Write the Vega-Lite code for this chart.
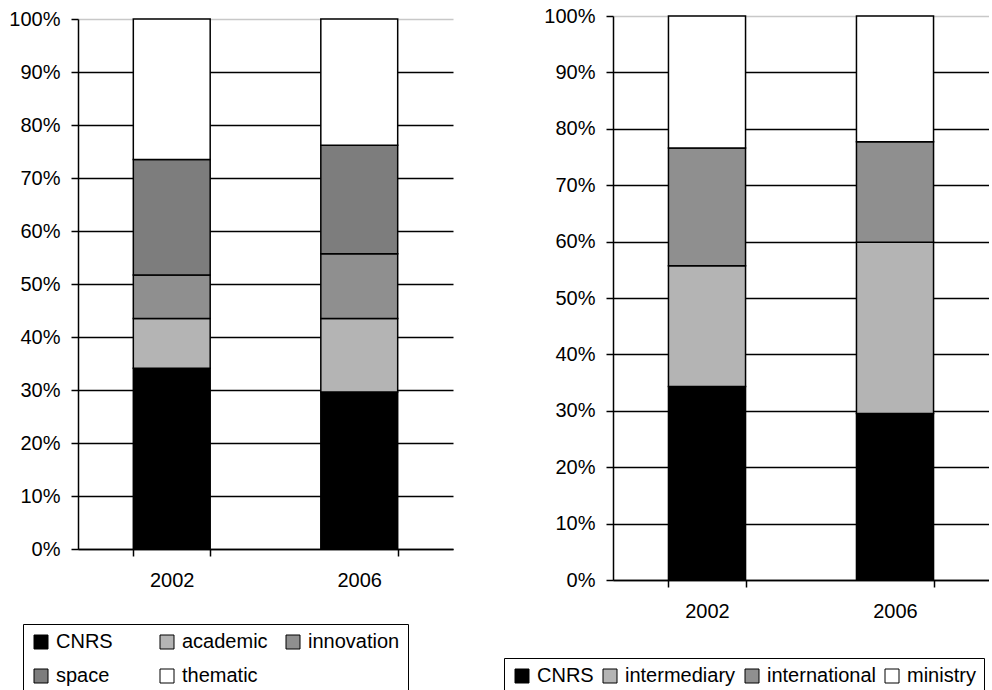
{
  "$schema": "https://vega.github.io/schema/vega-lite/v6.json",
  "background": "white",
  "padding": {"left": 8, "top": 6, "right": 0, "bottom": 0},
  "spacing": 50,
  "config": {
    "font": "Liberation Sans",
    "view": {"stroke": null},
    "axis": {
      "labelFont": "Liberation Sans",
      "labelFontSize": 20,
      "labelColor": "black",
      "domainColor": "black",
      "domainWidth": 1.5,
      "tickColor": "black",
      "tickWidth": 1.5,
      "tickSize": 7,
      "title": null
    },
    "legend": {
      "orient": "none",
      "direction": "horizontal",
      "title": null,
      "symbolType": "square",
      "symbolSize": 196,
      "symbolStrokeColor": "black",
      "symbolStrokeWidth": 1,
      "symbolOpacity": 1,
      "labelFont": "Liberation Sans",
      "labelFontSize": 20,
      "labelColor": "black",
      "labelOffset": 5,
      "strokeColor": "black",
      "fillColor": "white",
      "padding": 8,
      "labelLimit": 300
    }
  },
  "hconcat": [
    {
      "width": 375,
      "height": 533,
      "data": {"values": [
        {"year": "2002", "source": "CNRS", "share": 0.341},
        {"year": "2002", "source": "academic", "share": 0.094},
        {"year": "2002", "source": "innovation", "share": 0.082},
        {"year": "2002", "source": "space", "share": 0.218},
        {"year": "2002", "source": "thematic", "share": 0.265},
        {"year": "2006", "source": "CNRS", "share": 0.296},
        {"year": "2006", "source": "academic", "share": 0.139},
        {"year": "2006", "source": "innovation", "share": 0.122},
        {"year": "2006", "source": "space", "share": 0.205},
        {"year": "2006", "source": "thematic", "share": 0.238}
      ]},
      "mark": {"type": "bar", "stroke": "black", "strokeWidth": 1.5},
      "encoding": {
        "x": {
          "field": "year", "type": "nominal",
          "scale": {"paddingInner": 0.59, "paddingOuter": 0.295},
          "axis": {"labelAngle": 0, "tickBand": "extent", "labelPadding": 14}
        },
        "y": {
          "field": "share", "type": "quantitative", "stack": "zero",
          "scale": {"domain": [0, 1], "range": [533, 3], "nice": false},
          "axis": {
            "values": [0, 0.1, 0.2, 0.3, 0.4, 0.5, 0.6, 0.7, 0.8, 0.9, 1],
            "format": ".0%",
            "grid": true,
            "gridWidth": 1.5,
            "gridColor": {"condition": {"test": "datum.value === 1", "value": "#c8c8c8"}, "value": "black"},
            "labelPadding": 11
          }
        },
        "order": {"field": "source", "sort": "ascending"},
        "color": {
          "field": "source", "type": "nominal",
          "scale": {
            "domain": ["CNRS", "academic", "innovation", "space", "thematic"],
            "range": ["#000000", "#b4b4b4", "#8f8f8f", "#7d7d7d", "#ffffff"]
          },
          "legend": {
            "legendX": -55, "legendY": 608,
            "columns": 3, "gridAlign": "all",
            "columnPadding": 9, "rowPadding": 14
          }
        }
      }
    },
    {
      "width": 376,
      "height": 564,
      "data": {"values": [
        {"year": "2002", "source": "CNRS", "share": 0.343},
        {"year": "2002", "source": "intermediary", "share": 0.214},
        {"year": "2002", "source": "international", "share": 0.209},
        {"year": "2002", "source": "ministry", "share": 0.234},
        {"year": "2006", "source": "CNRS", "share": 0.295},
        {"year": "2006", "source": "intermediary", "share": 0.304},
        {"year": "2006", "source": "international", "share": 0.178},
        {"year": "2006", "source": "ministry", "share": 0.223}
      ]},
      "mark": {"type": "bar", "stroke": "black", "strokeWidth": 1.5},
      "encoding": {
        "x": {
          "field": "year", "type": "nominal",
          "scale": {"paddingInner": 0.59, "paddingOuter": 0.295},
          "axis": {"labelAngle": 0, "tickBand": "extent", "labelPadding": 14}
        },
        "y": {
          "field": "share", "type": "quantitative", "stack": "zero",
          "scale": {"domain": [0, 1], "nice": false},
          "axis": {
            "values": [0, 0.1, 0.2, 0.3, 0.4, 0.5, 0.6, 0.7, 0.8, 0.9, 1],
            "format": ".0%",
            "grid": true,
            "gridWidth": 1.5,
            "gridColor": {"condition": {"test": "datum.value === 1", "value": "#c8c8c8"}, "value": "black"},
            "labelPadding": 11
          }
        },
        "order": {"field": "source", "sort": "ascending"},
        "color": {
          "field": "source", "type": "nominal",
          "scale": {
            "domain": ["CNRS", "intermediary", "international", "ministry"],
            "range": ["#000000", "#b4b4b4", "#8f8f8f", "#ffffff"]
          },
          "legend": {
            "legendX": -109, "legendY": 642,
            "columns": 4, "gridAlign": "each",
            "columnPadding": 6
          }
        }
      }
    }
  ],
  "resolve": {"scale": {"color": "independent"}, "legend": {"color": "independent"}}
}
